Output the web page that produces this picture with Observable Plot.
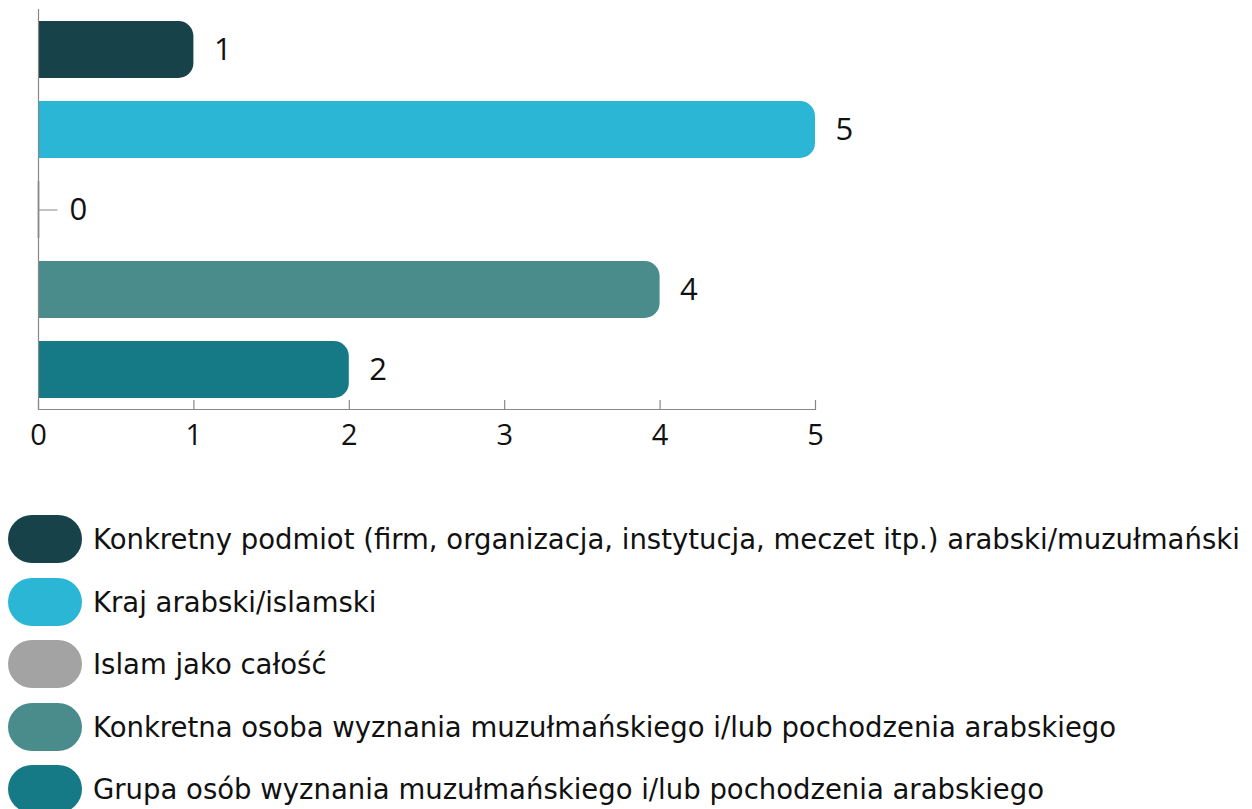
<!DOCTYPE html>
<html>
<head>
<meta charset="utf-8">
<script src="https://cdn.jsdelivr.net/npm/d3@7"></script>
<script src="https://cdn.jsdelivr.net/npm/@observablehq/plot@0.6"></script>
<style>
  html, body { margin: 0; padding: 0; background: #fff; }
  #legend { margin-top: 38px; font-family: "DejaVu Sans", sans-serif; font-size: 27.5px; color: #111; }
  .row { display: flex; align-items: center; height: 62.5px; }
  .sw { width: 74px; height: 48px; border-radius: 24px; margin-left: 8px; margin-right: 11px; flex: none; }
</style>
</head>
<body>
<div id="chart"></div>
<div id="legend"></div>
<script>
const categories = [
  "Konkretny podmiot (firm, organizacja, instytucja, meczet itp.) arabski/muzułmański",
  "Kraj arabski/islamski",
  "Islam jako całość",
  "Konkretna osoba wyznania muzułmańskiego i/lub pochodzenia arabskiego",
  "Grupa osób wyznania muzułmańskiego i/lub pochodzenia arabskiego"
];
const values = [1, 5, 0, 4, 2];
const colors = ["#17424a", "#2cb6d6", "#a3a3a3", "#4a8c8b", "#157986"];
const xTicks = [0, 1, 2, 3, 4, 5];

const data = categories.map((c, i) => ({cat: c, value: values[i], color: colors[i]}));
const nonZero = data.filter(d => d.value > 0);
const zero = data.filter(d => d.value === 0);

const chart = Plot.plot({
  width: 1252,
  height: 470,
  marginLeft: 38,
  marginRight: 437,
  marginTop: 9,
  marginBottom: 61,
  style: {fontFamily: "'Open Sans', sans-serif", background: "#fff"},
  x: {domain: [0, 5], ticks: xTicks, label: null},
  y: {domain: categories, paddingInner: 0.29, paddingOuter: 0.14, axis: null},
  marks: [
    Plot.barX(nonZero, {x: "value", y: "cat", fill: "color", rx: 15}),
    Plot.barX(nonZero, {x1: 0, x2: d => d.value / 2, y: "cat", fill: "color"}),
    Plot.tickX(zero, {x: "value", y: "cat", stroke: "#555", strokeWidth: 1.5}),
    Plot.ruleY(zero, {y: "cat", x1: "value", x2: d => d.value + 0.125, stroke: "#999", strokeWidth: 1.2}),
    Plot.text(nonZero, {x: "value", y: "cat", text: d => String(d.value), textAnchor: "start", dx: 20, fontSize: 31, fill: "#111"}),
    Plot.text(zero, {x: "value", y: "cat", text: d => String(d.value), textAnchor: "start", dx: 31, fontSize: 31, fill: "#111"}),
    Plot.ruleX([0], {stroke: "#888", strokeWidth: 1.2}),
    Plot.frame({anchor: "bottom", stroke: "#888", strokeWidth: 1.2}),
    Plot.tickX(xTicks, {x: d => d, insetTop: 391, stroke: "#888", strokeWidth: 1.2}),
    Plot.axisX({ticks: xTicks, tickSize: 0, tickPadding: 15, fontSize: 29, tickFormat: d => String(d), color: "#111", label: null})
  ]
});
document.getElementById("chart").appendChild(chart);

const legend = document.getElementById("legend");
data.forEach(d => {
  const row = document.createElement("div");
  row.className = "row";
  const sw = document.createElement("div");
  sw.className = "sw";
  sw.style.background = d.color;
  const t = document.createElement("span");
  t.textContent = d.cat;
  row.appendChild(sw);
  row.appendChild(t);
  legend.appendChild(row);
});
</script>
</body>
</html>
